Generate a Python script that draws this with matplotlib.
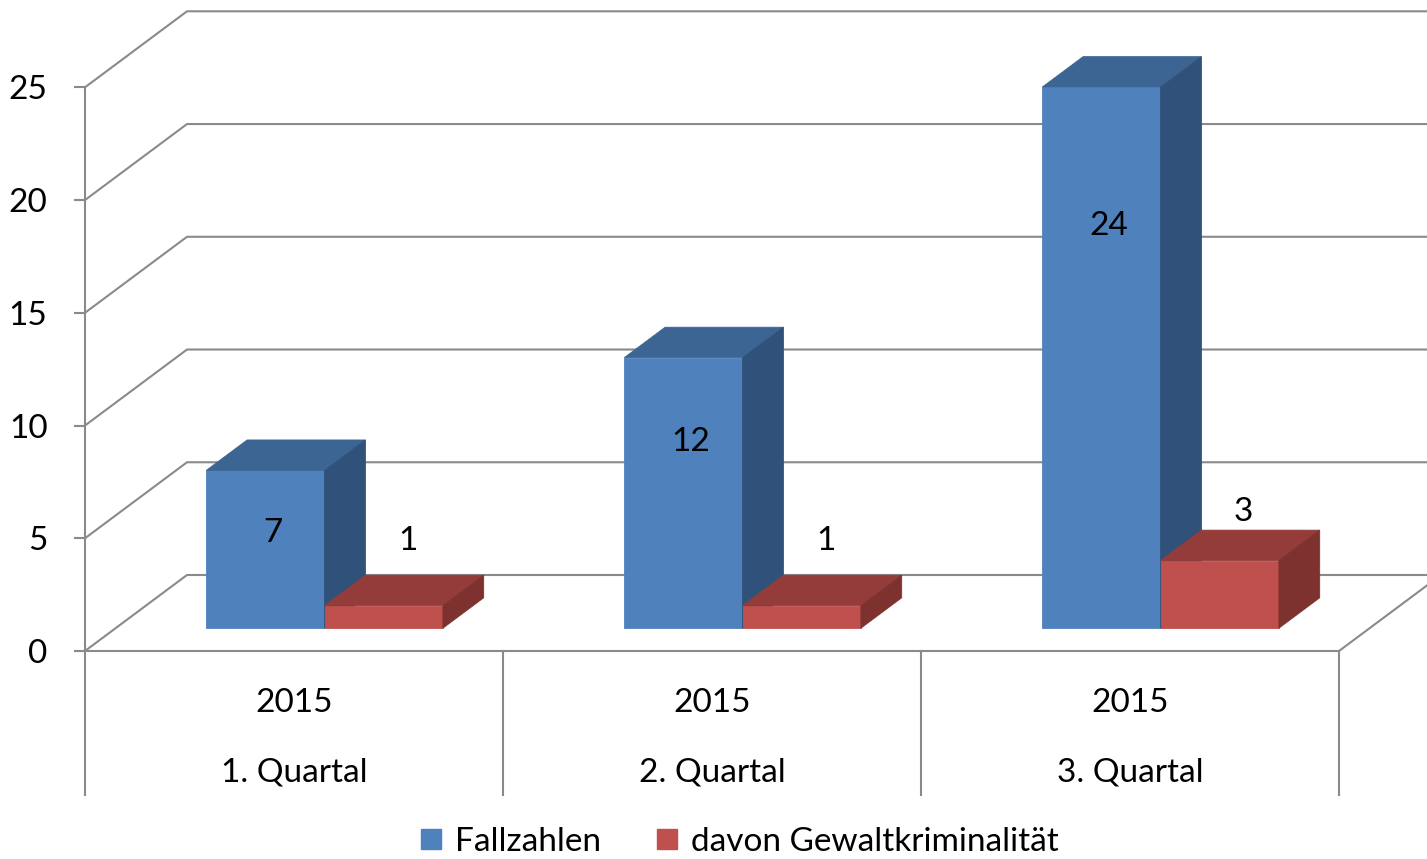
import matplotlib.pyplot as plt
from matplotlib.lines import Line2D

# ---- data ---------------------------------------------------------------
categories = ["1. Quartal", "2. Quartal", "3. Quartal"]
years = ["2015", "2015", "2015"]
fallzahlen = [7, 12, 24]
gewalt = [1, 1, 3]
series_names = ["Fallzahlen", "davon Gewaltkriminalität"]
y_ticks = [0, 5, 10, 15, 20, 25]

# ---- style ----------------------------------------------------------------
plt.rcParams["font.family"] = ["Lato", "DejaVu Sans"]
FS = 24
GRID = "#8a8a8a"
BLUE = ("#4f81bd", "#3c6593", "#30527a")   # front, top, side
RED = ("#c0504d", "#943c39", "#7e3230")

W, H = 1427, 859
fig = plt.figure(figsize=(W / 100, H / 100), dpi=100)

# front plane of the 3d box in pixels
ax_l, ax_r, ax_b, ax_t = 85, 1339, 651, 87.3
ax = fig.add_axes([ax_l / W, 1 - ax_b / H, (ax_r - ax_l) / W, (ax_b - ax_t) / H])
ax.set_xlim(0, len(categories))
ax.set_ylim(0, 25)

px_x = (ax_r - ax_l) / len(categories)
px_y = (ax_b - ax_t) / 25
DX, DY = 102 / px_x, 76 / px_y          # full depth of the box, data units
T0, T1 = 0.30, 0.70                      # bar depth range
BW = 0.283                               # bar width in category units


def proj(x, y, t):
    return x + t * DX, y + t * DY


def poly(pts, color, z):
    xs, ys = zip(*[proj(*p) for p in pts])
    ax.fill(xs, ys, color=color, lw=0.6, ec=color, clip_on=False, zorder=z)


def bar3d(x0, x1, v, cols, z):
    front, top, side = cols
    poly([(x0, 0, T0), (x1, 0, T0), (x1, v, T0), (x0, v, T0)], front, z)
    poly([(x0, v, T0), (x1, v, T0), (x1, v, T1), (x0, v, T1)], top, z)
    poly([(x1, 0, T0), (x1, 0, T1), (x1, v, T1), (x1, v, T0)], side, z)


# ---- walls / grid ---------------------------------------------------------
n = len(categories)
for v in y_ticks:
    bx, by = proj(0, v, 1)
    ax.plot([0, bx, n + DX + 1], [v, by, by], color=GRID, lw=1.5,
            clip_on=False, zorder=1)
# floor right edge
ax.plot([n, n + DX], [0, DY], color=GRID, lw=1.5, clip_on=False, zorder=1)

# category separators below floor
sep = 144 / px_y
for k in range(n + 1):
    ax.plot([k, k], [0, -sep], color=GRID, lw=1.5, clip_on=False, zorder=1)

for s in ["top", "right"]:
    ax.spines[s].set_visible(False)
for s in ["left", "bottom"]:
    ax.spines[s].set_color(GRID)
    ax.spines[s].set_linewidth(1.5)
ax.set_xticks([])
ax.set_yticks(y_ticks)
ax.tick_params(axis="y", direction="out", length=8, width=1.5, color=GRID,
               pad=19, labelsize=FS)
ax.patch.set_visible(False)

# ---- bars ----------------------------------------------------------------
for i in range(n):
    c = i + 0.5
    bar3d(c - BW, c, fallzahlen[i], BLUE, 3 + 2 * i)
    bar3d(c, c + BW, gewalt[i], RED, 4 + 2 * i)

    lx = c - BW / 2 + T0 * DX + 7 / px_x
    ax.text(lx, 0.8 * fallzahlen[i] - 0.35, str(fallzahlen[i]), fontsize=FS,
            ha="center", va="center", zorder=20)
    rx = c + BW / 2 + T0 * DX + 24 / px_x
    ax.text(rx, 0.64 * gewalt[i] + 4.25, str(gewalt[i]), fontsize=FS,
            ha="center", va="center", zorder=20)

    ax.text(c, -60.7 / px_y, years[i], fontsize=FS, ha="center",
            va="baseline")
    ax.text(c, -130.7 / px_y, categories[i], fontsize=FS, ha="center",
            va="baseline")

# ---- legend --------------------------------------------------------------
handles = [Line2D([], [], marker="s", ls="", markersize=14, color=col[0])
           for col in (BLUE, RED)]
fig.legend(handles, series_names, loc="center", ncol=2, frameon=False,
           bbox_to_anchor=(740 / W, 1 - 842 / H), fontsize=FS,
           handlelength=0.6, handletextpad=0.4, columnspacing=1.7)

fig.savefig("out.png", dpi=100)
